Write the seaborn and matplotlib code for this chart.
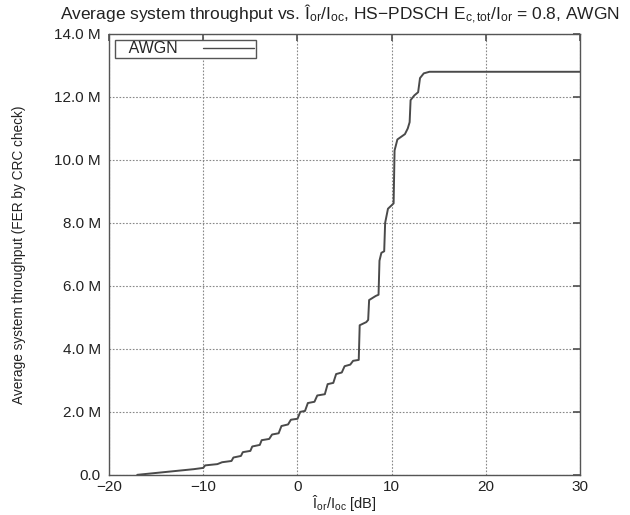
import matplotlib
matplotlib.use("Agg")
import matplotlib.pyplot as plt
import seaborn as sns
import pandas as pd

# Data (Ior/Ioc in dB, throughput in Mbit/s)
snr_db = [-17.0, -15.0, -13.0, -11.0, -10.0, -9.8, -8.5, -8.0, -7.0, -6.8, -6.0, -5.8,
          -5.0, -4.8, -4.0, -3.8, -3.0, -2.7, -2.0, -1.7, -1.0, -0.7, 0.0, 0.3, 0.8,
          1.1, 1.8, 2.1, 2.9, 3.2, 3.8, 4.1, 4.7, 5.0, 5.6, 5.9, 6.5, 6.6, 7.3, 7.5,
          7.6, 8.3, 8.6, 8.7, 8.9, 9.2, 9.3, 9.6, 10.2, 10.3, 10.6, 11.4, 11.7, 11.9,
          12.0, 12.4, 12.8, 13.0, 13.4, 14.0, 30.0]
throughput_m = [0.00, 0.06, 0.12, 0.18, 0.22, 0.30, 0.34, 0.40, 0.44, 0.55, 0.60, 0.72,
                0.76, 0.90, 0.95, 1.10, 1.14, 1.28, 1.32, 1.55, 1.60, 1.75, 1.78, 2.00, 2.03,
                2.28, 2.32, 2.52, 2.56, 2.88, 2.92, 3.20, 3.25, 3.45, 3.50, 3.62, 3.65, 4.75,
                4.85, 4.92, 5.55, 5.68, 5.72, 6.80, 7.05, 7.10, 8.00, 8.45, 8.62, 10.30,
                10.65, 10.82, 11.00, 11.20, 11.90, 12.05, 12.15, 12.60, 12.75, 12.80, 12.80]
series_name = "AWGN"
x_ticks = [-20, -10, 0, 10, 20, 30]
y_ticks = [0, 2, 4, 6, 8, 10, 12, 14]
y_tick_labels = ["0.0", "2.0 M", "4.0 M", "6.0 M", "8.0 M", "10.0 M", "12.0 M", "14.0 M"]

df = pd.DataFrame({"snr": snr_db, "tput": throughput_m, "series": series_name})

sns.set_theme(style="white")
plt.rcParams['font.family'] = ['Liberation Sans', 'DejaVu Sans']
plt.rcParams['mathtext.fontset'] = 'custom'
plt.rcParams['mathtext.rm'] = 'Liberation Sans'
plt.rcParams['mathtext.it'] = 'Liberation Sans:italic'

fig = plt.figure(figsize=(6.3, 5.15), dpi=100)
ax = fig.add_axes([0.173, 0.078, 0.748, 0.856])

sns.lineplot(data=df, x="snr", y="tput", hue="series", palette=["#4a4a4a"],
             estimator=None, sort=False, linewidth=1.4, ax=ax)

ax.set_xlim(-20, 30)
ax.set_ylim(0, 14)
ax.set_xticks(x_ticks)
ax.set_yticks(y_ticks)
ax.set_yticklabels(y_tick_labels)
ax.grid(True, linestyle=(0, (1.5, 1.5)), color="#888888", linewidth=0.8)
for s in ax.spines.values():
    s.set_color("#555555")
    s.set_linewidth(1.0)
ax.tick_params(direction="in", top=True, right=True, length=5, color="#555555",
               labelsize=11, labelcolor="#222222", pad=6)
ax.tick_params(axis="x", pad=4)

ax.set_xlabel(r"Î$_{\mathrm{or}}$/I$_{\mathrm{oc}}$ [dB]", fontsize=10.5, color="#222222", labelpad=-1)
ax.set_ylabel("Average system throughput (FER by CRC check)", fontsize=9.8, color="#222222", labelpad=20)
ax.set_title(r"Average system throughput vs. Î$_{\mathrm{or}}$/I$_{\mathrm{oc}}$, HS$-$PDSCH E$_{\mathrm{c,tot}}$/I$_{\mathrm{or}}$ = 0.8, AWGN",
             fontsize=12.5, color="#222222", pad=10, x=0.49)

leg = ax.legend(loc="upper left", markerfirst=False, frameon=True, fancybox=False,
                fontsize=11.5, handlelength=3.2, borderpad=0.1, borderaxespad=0.35,
                handletextpad=1.6, title=None)
leg.get_frame().set_edgecolor("#555555")
leg.get_frame().set_linewidth(1.0)
leg.get_frame().set_alpha(1)
for t in leg.get_texts():
    t.set_text("   " + t.get_text())
for line in leg.get_lines():
    line.set_linewidth(1.0)

fig.savefig("out.png", dpi=100)
